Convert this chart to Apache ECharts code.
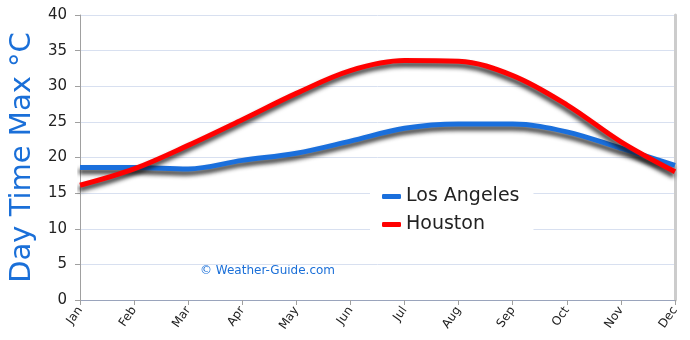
<!DOCTYPE html>
<html>
<head>
<meta charset="utf-8">
<script src="https://cdn.jsdelivr.net/npm/echarts@6/dist/echarts.min.js"></script>
<style>
  html, body { margin: 0; padding: 0; background: #ffffff; }
  #chart { width: 690px; height: 340px; }
</style>
</head>
<body>
<div id="chart"></div>
<script>
// Monthly average day-time maximum temperatures (°C)
const months = ['Jan', 'Feb', 'Mar', 'Apr', 'May', 'Jun', 'Jul', 'Aug', 'Sep', 'Oct', 'Nov', 'Dec'];
const losAngeles = [18.6, 18.6, 18.4, 19.6, 20.6, 22.3, 24.1, 24.7, 24.7, 23.6, 21.3, 18.9];
const houston = [16.1, 18.4, 21.7, 25.3, 29.0, 32.2, 33.6, 33.5, 31.5, 27.4, 22.2, 18.0];
const yTicks = [0, 5, 10, 15, 20, 25, 30, 35, 40];

const FONT = '"DejaVu Sans", "Noto Sans", sans-serif';
const shadow = { shadowColor: 'rgba(20,20,20,0.85)', shadowBlur: 4, shadowOffsetY: 4, shadowOffsetX: -1 };

const chart = echarts.init(document.getElementById('chart'), null, { renderer: 'canvas' });

chart.setOption({
  backgroundColor: '#ffffff',
  animation: false,
  grid: { left: 73, right: 15, top: 15, bottom: 40 },
  legend: {
    orient: 'vertical',
    left: 370,
    top: 183,
    padding: [4, 14, 4, 12],
    backgroundColor: '#ffffff',
    itemGap: 9,
    itemWidth: 19,
    itemHeight: 5,
    icon: 'roundRect',
    itemStyle: { shadowBlur: 0, shadowOffsetY: 0, shadowOffsetX: 0 },
    textStyle: { fontFamily: FONT, fontSize: 19, color: '#222222' },
    data: ['Los Angeles', 'Houston']
  },
  xAxis: [{
    type: 'category',
    data: months,
    boundaryGap: false,
    axisLine: { lineStyle: { color: '#a0a0a0', width: 1 } },
    axisTick: { show: true, length: 5, lineStyle: { color: '#a0a0a0' } },
    axisLabel: { rotate: 55, fontFamily: FONT, fontSize: 12, color: '#222222', margin: 8 },
    splitLine: { show: false }
  }, {
    type: 'category',
    data: months,
    position: 'top',
    boundaryGap: false,
    axisLine: { lineStyle: { color: '#9aa4bc', width: 1 } },
    axisTick: { show: false },
    axisLabel: { show: false }
  }],
  yAxis: [{
    type: 'value',
    min: yTicks[0],
    max: yTicks[yTicks.length - 1],
    interval: 5,
    name: 'Day Time Max °C',
    nameLocation: 'middle',
    nameGap: 40,
    nameTextStyle: { fontFamily: FONT, fontSize: 29, color: '#1a6fd8' },
    axisLine: { show: true, lineStyle: { color: '#a0a0a0', width: 1 } },
    axisTick: { show: true, length: 5, lineStyle: { color: '#a0a0a0' } },
    axisLabel: { fontFamily: FONT, fontSize: 15, color: '#222222', margin: 13 },
    splitLine: { lineStyle: { color: '#d8e0f0', width: 1 } }
  }, {
    type: 'value',
    position: 'right',
    min: yTicks[0],
    max: yTicks[yTicks.length - 1],
    interval: 5,
    axisLine: { show: true, lineStyle: { color: '#cccccc', width: 3 } },
    axisTick: { show: false },
    axisLabel: { show: false },
    splitLine: { show: false }
  }],
  graphic: [{
    type: 'text',
    left: 200,
    top: 265,
    style: { text: '© Weather-Guide.com', font: '12px ' + FONT, fill: '#1a6fd8' }
  }],
  series: [{
    name: 'Los Angeles',
    type: 'line',
    data: losAngeles,
    smooth: 0.35,
    symbol: 'none',
    z: 3,
    itemStyle: { color: '#1a6fdc' },
    lineStyle: Object.assign({ color: '#1a6fdc', width: 5 }, shadow)
  }, {
    name: 'Houston',
    type: 'line',
    data: houston,
    smooth: 0.35,
    symbol: 'none',
    z: 4,
    itemStyle: { color: '#ff0000' },
    lineStyle: Object.assign({ color: '#ff0000', width: 5 }, shadow)
  }]
});
</script>
</body>
</html>
